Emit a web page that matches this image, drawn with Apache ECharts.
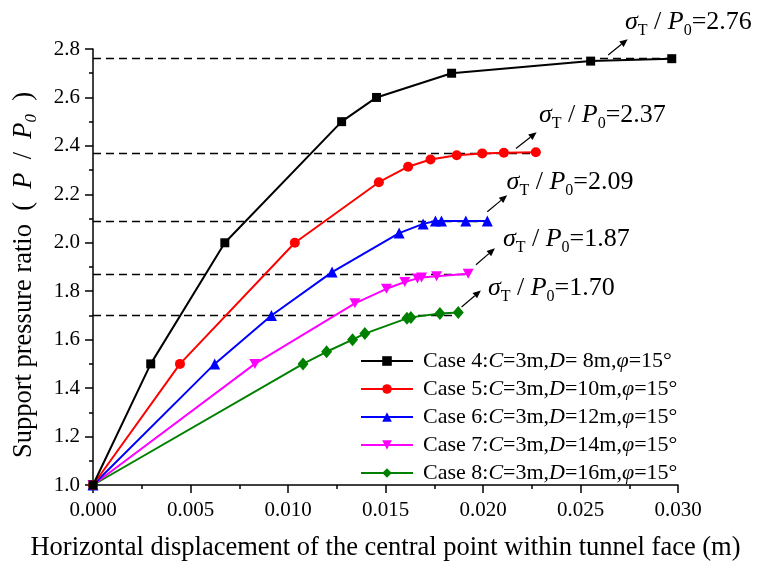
<!DOCTYPE html>
<html>
<head>
<meta charset="utf-8">
<script src="https://cdn.jsdelivr.net/npm/echarts@6/dist/echarts.min.js"></script>
<style>
  html, body { margin: 0; padding: 0; background: #fff; }
  #chart { width: 758px; height: 567px; }
</style>
</head>
<body>
<div id="chart"></div>
<script>
// data
const caseNames = ['Case 4', 'Case 5', 'Case 6', 'Case 7', 'Case 8'];
const depthLabels = [' 8', '10', '12', '14', '16'];
const case4X = [0, 0.00296, 0.00676, 0.01275, 0.01454, 0.01839, 0.02552, 0.02968];
const case4Y = [1.0, 1.5, 2.0, 2.5, 2.6, 2.7, 2.75, 2.76];
const case5X = [0, 0.00446, 0.01035, 0.01466, 0.01616, 0.01731, 0.01865, 0.01996, 0.02107, 0.02271];
const case5Y = [1.0, 1.5, 2.0, 2.25, 2.314, 2.344, 2.361, 2.369, 2.372, 2.374];
const case6X = [0, 0.00624, 0.00915, 0.01226, 0.0157, 0.01693, 0.01756, 0.01787, 0.01912, 0.02022];
const case6Y = [1.0, 1.5, 1.70, 1.879, 2.04, 2.078, 2.09, 2.09, 2.09, 2.09];
const case7X = [0, 0.0083, 0.01343, 0.01505, 0.01599, 0.01664, 0.01685, 0.01762, 0.01924];
const case7Y = [1.0, 1.5, 1.75, 1.81, 1.838, 1.853, 1.857, 1.862, 1.872];
const case8X = [0, 0.01077, 0.01198, 0.01331, 0.01394, 0.0161, 0.0163, 0.01779, 0.01873];
const case8Y = [1.0, 1.5, 1.55, 1.60, 1.625, 1.688, 1.692, 1.708, 1.712];
const limitValues = [2.76, 2.37, 2.09, 1.87, 1.70];
const limitLabels = ['2.76', '2.37', '2.09', '1.87', '1.70'];
// label anchor (left, middle) and arrow start/end, in data units
const labelPos = [[0.02728, 2.912], [0.02287, 2.525], [0.02121, 2.25], [0.02102, 2.016], [0.02025, 1.814]];
const arrowFrom = [[0.02642, 2.775], [0.02169, 2.389], [0.02022, 2.128], [0.01964, 1.909], [0.0189, 1.735]];
const arrowTo = [[0.02742, 2.840], [0.02275, 2.456], [0.02124, 2.196], [0.02061, 1.977], [0.01989, 1.803]];

const xs = [case4X, case5X, case6X, case7X, case8X];
const ys = [case4Y, case5Y, case6Y, case7Y, case8Y];
const colors = ['#000000', '#ff0000', '#0000ff', '#ff00ff', '#008000'];
const symbols = ['rect', 'circle', 'triangle', 'path://M0,0 L10,0 L5,8.66 Z', 'diamond'];
const symbolSizes = [9, 10, 11, [11, 10], [11, 13]];

const FONT = 'Liberation Serif';
const chart = echarts.init(document.getElementById('chart'));

const series = caseNames.map((name, i) => ({
    name: name,
    type: 'line',
    data: xs[i].map((x, j) => [x, ys[i][j]]),
    symbol: symbols[i],
    symbolSize: symbolSizes[i],
    showAllSymbol: true,
    color: colors[i],
    lineStyle: { width: 2, color: colors[i] },
    itemStyle: { color: colors[i] },
    z: 10 - i,
    markLine: {
        silent: true,
        symbol: 'none',
        label: { show: false },
        lineStyle: { color: '#000', type: [8, 5], width: 1.3 },
        data: [[
            { coord: [0, limitValues[i]] },
            { coord: [xs[i][xs[i].length - 1], limitValues[i]] }
        ]]
    }
}));

const option = {
    animation: false,
    textStyle: { fontFamily: FONT },
    grid: { left: 93, right: 80, top: 49, bottom: 80 },
    legend: {
        orient: 'vertical',
        left: 355,
        top: 345,
        itemWidth: 52,
        itemHeight: 12,
        itemGap: 6,
        data: caseNames,
        formatter: function (name) {
            const i = caseNames.indexOf(name);
            return name + ':{i|C}=3m,{i|D}=' + depthLabels[i] + 'm,{i|φ}=15°';
        },
        textStyle: {
            fontFamily: FONT, fontSize: 22, color: '#000', lineHeight: 22,
            padding: [0, 0, 0, 5],
            rich: { i: { fontFamily: FONT, fontSize: 22, fontStyle: 'italic', lineHeight: 22 } }
        }
    },
    xAxis: {
        type: 'value',
        min: 0, max: 0.03, interval: 0.005,
        name: 'Horizontal displacement of the central point within tunnel face (m)',
        nameLocation: 'middle',
        nameGap: 50,
        nameTextStyle: { fontFamily: FONT, fontSize: 26.5, color: '#000' },
        axisLine: { show: true, lineStyle: { color: '#000', width: 1.5 } },
        axisTick: { show: true, length: 8, lineStyle: { color: '#000', width: 1.5 } },
        minorTick: { show: true, splitNumber: 2, length: 4, lineStyle: { color: '#000', width: 1.5 } },
        splitLine: { show: false },
        axisLabel: {
            fontFamily: FONT, fontSize: 21, color: '#000', margin: 15,
            formatter: v => v.toFixed(3)
        }
    },
    yAxis: {
        type: 'value',
        min: 1.0, max: 2.8, interval: 0.2,
        name: 'Support pressure ratio\u2002(\u2002{i|P}\u2002/\u2002{i|P}{s|0}\u2002)',
        nameLocation: 'middle',
        nameGap: 53,
        nameTextStyle: {
            fontFamily: FONT, fontSize: 26.5, color: '#000',
            padding: [0, 0, 0, -16],
            rich: {
                i: { fontFamily: FONT, fontSize: 26.5, fontStyle: 'italic' },
                s: { fontFamily: FONT, fontSize: 17, fontStyle: 'italic', padding: [14, 0, 0, 0] }
            }
        },
        axisLine: { show: true, lineStyle: { color: '#000', width: 1.5 } },
        axisTick: { show: true, length: 8, lineStyle: { color: '#000', width: 1.5 } },
        minorTick: { show: true, splitNumber: 2, length: 4, lineStyle: { color: '#000', width: 1.5 } },
        splitLine: { show: false },
        axisLabel: {
            fontFamily: FONT, fontSize: 21, color: '#000', margin: 13,
            formatter: v => v.toFixed(1)
        }
    },
    series: series
};

chart.setOption(option);

// annotations: σT / P0 labels with small arrows
const graphics = [];
limitLabels.forEach((txt, i) => {
    const p = chart.convertToPixel({ gridIndex: 0 }, labelPos[i]);
    graphics.push({
        type: 'text',
        x: p[0], y: p[1],
        style: {
            text: '{s|σ}{t|T} / {p|P}{t|0}=' + txt,
            fill: '#000',
            font: '26px ' + FONT,
            verticalAlign: 'middle',
            align: 'left',
            rich: {
                s: { fontFamily: FONT, fontSize: 26, fontStyle: 'italic' },
                p: { fontFamily: FONT, fontSize: 26, fontStyle: 'italic' },
                t: { fontFamily: FONT, fontSize: 16, padding: [17, 0, 0, 0] }
            }
        }
    });
    const a = chart.convertToPixel({ gridIndex: 0 }, arrowFrom[i]);
    const b = chart.convertToPixel({ gridIndex: 0 }, arrowTo[i]);
    const dx = b[0] - a[0], dy = b[1] - a[1];
    const len = Math.sqrt(dx * dx + dy * dy);
    const ux = dx / len, uy = dy / len;
    const head = 8, half = 3.5;
    const bx = b[0] - ux * head, by = b[1] - uy * head;
    graphics.push({
        type: 'line',
        shape: { x1: a[0], y1: a[1], x2: bx, y2: by },
        style: { stroke: '#000', lineWidth: 1.2 }
    });
    graphics.push({
        type: 'polygon',
        shape: { points: [[b[0], b[1]], [bx - uy * half, by + ux * half], [bx + uy * half, by - ux * half]] },
        style: { fill: '#000' }
    });
});
chart.setOption({ graphic: graphics });
</script>
</body>
</html>
